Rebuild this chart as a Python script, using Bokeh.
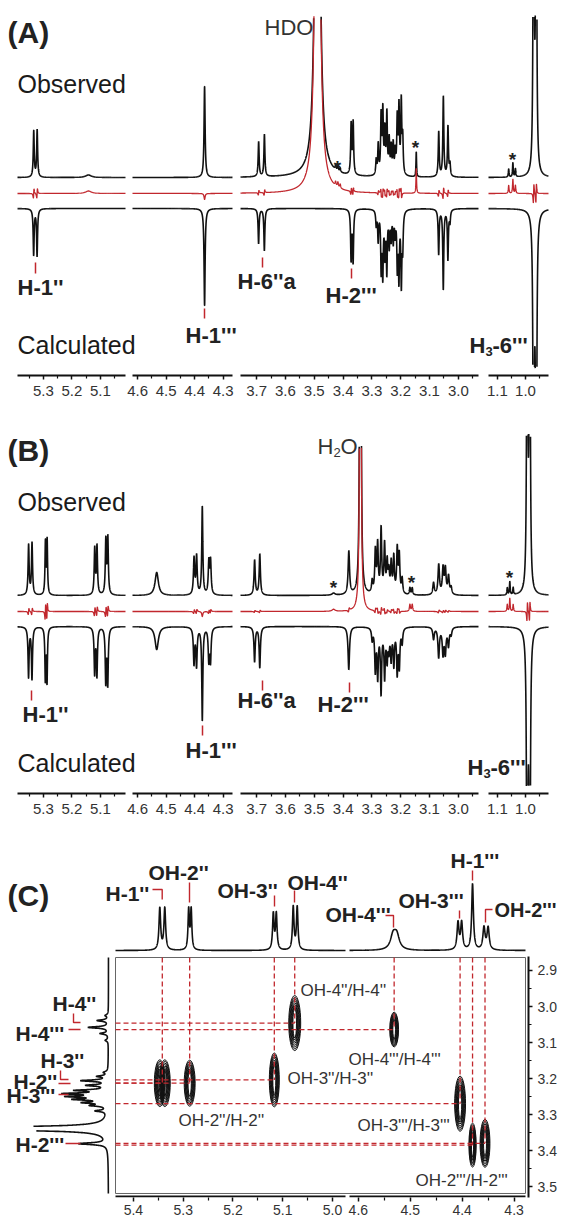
import numpy as np
from bokeh.plotting import figure
from bokeh.models import Range1d, FixedTicker, PrintfTickFormatter, LinearAxis
from bokeh.layouts import column, row
from bokeh.embed import file_html
from bokeh.resources import INLINE
from bokeh.core.properties import value

FONT = "Liberation Sans"
RED = "#c1272d"
INK = "#111111"
TXT = "#1e1e1e"

# ============================ DATA ============================
# (A) 1H peak list:
# shift (ppm), observed height, calculated height, half width (ppm),
# small offset of the calculated line (ppm) seen as wiggles in the residual
A_PPM = [5.334, 5.322, 5.142, 4.365, 3.693, 3.673, 3.489, 3.426, 3.418, 3.410,
         3.372, 3.365, 3.285, 3.278, 3.268, 3.262, 3.255, 3.248, 3.240, 3.233,
         3.226, 3.219, 3.212, 3.206, 3.198, 3.193, 3.146, 3.068, 3.052, 3.036,
         3.029, 1.060, 1.045, 1.036, 0.971, 0.962]
A_OBS = [46, 47, 2.5, 91, 35, 42, 900, 4, 5, 4,
         50, 52, 15, 30, 58, 62, 42, 60, 34, 27,
         30, 22, 55, 66, 72, 35, 25, 45, 80, 50,
         12, 8, 14, 8, 500, 500]
A_CALC = [46, 47, 0, 97, 35, 42, 0, 0, 0, 0,
          50, 52, 15, 30, 58, 62, 42, 60, 34, 27,
          30, 22, 55, 66, 72, 35, 0, 45, 80, 50,
          12, 0, 0, 0, 500, 500]
A_HW = [.002, .002, .012, .0022, .002, .002, .006, .002, .002, .002,
        .002, .002, .002, .002, .002, .002, .002, .002, .002, .002,
        .002, .002, .002, .002, .002, .002, .0012, .002, .002, .002,
        .002, .0015, .0015, .0015, .0018, .0018]
A_DCALC = [.0003, .0003, 0, 0, .0002, .0002, 0, 0, 0, 0,
           .0002, .0002, 0, .0002, -.0002, .0002, -.0002, .0002, -.0002, .0002,
           -.0002, .0002, -.0002, .0002, -.0002, 0, 0, .0002, .0002, .0002,
           0, 0, 0, 0, .00005, .00005]

# (B) 1H peak list (spectrum with OH signals)
B_PPM = [5.352, 5.340, 5.293, 5.287, 5.120, 5.112, 5.081, 5.074, 4.533, 4.402,
         4.393, 4.373, 4.350, 4.344, 3.707, 3.689, 3.433, 3.380, 3.340, 3.299,
         3.288, 3.280, 3.268, 3.256, 3.247, 3.241, 3.233, 3.224, 3.212, 3.205,
         3.195, 3.168, 3.160, 3.086, 3.068, 3.053, 3.045, 3.034, 3.025, 1.065,
         1.056, 1.044, 0.994, 0.985]
B_OBS = [50, 52, 52, 54, 46, 48, 54, 56, 23, 36,
         38, 88, 32, 33, 35, 41, 2, 43, 1500, 12,
         42, 48, 64, 48, 30, 20, 30, 36, 44, 38,
         15, 7, 7, 12, 30, 26, 25, 18, 7, 7,
         13, 7, 500, 500]
B_CALC = [50, 52, 52, 54, 46, 48, 54, 56, 23, 36,
          38, 93, 32, 33, 35, 41, 0, 43, 0, 12,
          42, 48, 64, 48, 30, 20, 30, 36, 44, 38,
          15, 0, 0, 12, 30, 26, 25, 18, 7, 0,
          0, 0, 500, 500]
B_HW = [.0022, .0022, .0018, .0018, .0022, .0022, .0022, .0022, .007, .0025,
        .0025, .0022, .0025, .0025, .0025, .0025, .006, .003, .0013, .0025,
        .0025, .0025, .0025, .0025, .0025, .0025, .0025, .0025, .0025, .0025,
        .0025, .002, .002, .003, .003, .003, .003, .003, .003, .0015,
        .0015, .0015, .0018, .0018]
B_DCALC = [.0002, .0002, .0004, .0004, .0003, .0003, .0003, .0003, 0, .0002,
           .0002, 0, .0002, .0002, .0001, .0001, 0, .0002, 0, 0,
           .0002, -.0002, .0002, -.0002, .0002, 0, .0002, -.0002, .0002, -.0002,
           0, 0, 0, 0, .0002, .0002, .0002, .0002, 0, 0,
           0, 0, .00005, .00005]

# broken ppm axis of (A)/(B): tick values
AB_MAJOR = [[5.3, 5.2, 5.1], [4.6, 4.5, 4.4, 4.3],
            [3.7, 3.6, 3.5, 3.4, 3.3, 3.2, 3.1, 3.0], [1.1, 1.0]]
AB_MINOR = [[5.35, 5.25, 5.15, 5.05], [4.55, 4.45, 4.35],
            [3.65, 3.55, 3.45, 3.35, 3.25, 3.15, 3.05, 2.95], [1.05, 0.95]]

# (C) top projection (OH region, F2)
CT_PPM = [5.347, 5.337, 5.289, 5.284, 5.119, 5.113, 5.079, 5.071, 4.533, 4.526,
          4.408, 4.401, 4.380, 4.358, 4.350]
CT_INT = [42, 42, 40, 40, 36, 36, 43, 43, 14, 14, 27, 27, 66, 22, 22]
CT_HW = [.002, .002, .0016, .0016, .0018, .0018, .0018, .0018, .006, .006,
         .0022, .0022, .002, .0025, .0025]
# (C) left projection (CH region, F1)
CL_PPM = [3.025, 3.039, 3.058, 3.075, 3.094, 3.183, 3.194, 3.206, 3.219, 3.233,
          3.242, 3.250, 3.258, 3.267, 3.275, 3.290, 3.339, 3.381]
CL_INT = [3, 11, 20, 8, 3, 4, 10, 26, 20, 30, 40, 36, 30, 22, 15, 11, 400, 28]
CL_HW = [.003, .0025, .0025, .0025, .003, .003, .0025, .0025, .0025, .0025,
         .0025, .0025, .0025, .0025, .0025, .0025, .003, .003]
# (C) cross peaks: F2 (OH) ppm, F1 (H) ppm, F2 width, F1 height (ppm)
XP_F2 = [5.347, 5.337, 5.287, 5.117, 5.076, 4.531, 4.404, 4.380, 4.356]
XP_F1 = [3.213, 3.213, 3.213, 3.204, 3.046, 3.064, 3.270, 3.385, 3.380]
XP_W = [0.022, 0.022, 0.022, 0.020, 0.024, 0.017, 0.021, 0.014, 0.019]
XP_H = [0.130, 0.130, 0.128, 0.150, 0.153, 0.097, 0.153, 0.122, 0.133]
# correlations marked with dashed guides
COR_F2 = [5.342, 5.287, 5.117, 5.076, 4.531, 4.404, 4.380, 4.356]
COR_F1 = [3.213, 3.213, 3.204, 3.046, 3.064, 3.270, 3.385, 3.380]
C_MAJOR = [[5.4, 5.3, 5.2, 5.1, 5.0], [4.6, 4.5, 4.4, 4.3]]
C_MINOR = [[5.35, 5.25, 5.15, 5.05], [4.55, 4.45, 4.35]]
F1_MAJOR = [2.9, 3.0, 3.1, 3.2, 3.3, 3.4, 3.5]
F1_MINOR = [2.95, 3.05, 3.15, 3.25, 3.35, 3.45]

# ============================ LAYOUT ============================
SEG_AB = [(5.391, 5.012, 17, 125), (4.618, 4.267, 132, 232),
          (3.756, 2.930, 240, 478), (1.132, 0.918, 488, 548)]
SEG_C = [(5.436, 4.974, 115, 345), (4.617, 4.278, 349, 525)]
F1_TOP, F1_BOT = 2.8639, 3.5194      # 2D box, page y 957..1193
F1_PX = 360.0


def to_x(ppm, seg):
    p0, p1, x0, x1 = seg
    return x0 + (p0 - np.asarray(ppm, float)) * (x1 - x0) / (p0 - p1)


def seg_scale(seg):
    p0, p1, x0, x1 = seg
    return (x1 - x0) / (p0 - p1)


def spectrum(grid, ppm, h, hw):
    g = grid[:, None]
    c = np.asarray(ppm, float)[None, :]
    w = np.asarray(hw, float)[None, :]
    a = np.asarray(h, float)[None, :]
    return (a / (1.0 + ((g - c) / w) ** 2)).sum(axis=1)


def page_to_f1(y):
    return F1_TOP + (np.asarray(y, float) - 957.0) / F1_PX


def style_axis(ax, size="15px", standoff=6):
    ax.axis_line_width = 2
    ax.axis_line_color = INK
    ax.major_tick_line_color = INK
    ax.minor_tick_line_color = INK
    ax.major_tick_line_width = 1.5
    ax.minor_tick_line_width = 1.2
    ax.major_tick_in = 0
    ax.major_tick_out = 4
    ax.minor_tick_in = 0
    ax.minor_tick_out = 3
    ax.major_label_text_font = FONT
    ax.major_label_text_font_size = size
    ax.major_label_text_color = "#333333"
    ax.major_label_standoff = standoff


def seg_axis(p, seg, major, minor, loc, size="15px", standoff=6):
    tk = [float(v) for v in to_x(major, seg)]
    mk = [float(v) for v in to_x(minor, seg)]
    ax = LinearAxis(fixed_location=loc, bounds=(float(seg[2]), float(seg[3])),
                    ticker=FixedTicker(ticks=tk, minor_ticks=mk),
                    major_label_overrides={t: f"{m:.1f}" for t, m in zip(tk, major)})
    style_axis(ax, size, standoff)
    p.add_layout(ax, "below")


def txt(p, xs, ys, texts, size, bold=False, color=TXT, align="left"):
    p.text(x=list(xs), y=list(ys), text=list(texts), text_font=value(FONT),
           text_font_size=size, text_font_style="bold" if bold else "normal",
           text_color=color, text_baseline="middle", text_align=align)


def sub_label(p, x, y, head, sub, tail, size, bold, color, sub_dx, tail_dx, sub_dy):
    """text with a subscript digit, e.g. H3-6''' or H2O (three real text pieces)"""
    txt(p, [x], [y], [head], f"{size}px", bold=bold, color=color)
    if sub:
        txt(p, [x + sub_dx], [y + sub_dy], [sub], f"{int(size * 0.6)}px", bold=bold, color=color)
    if tail:
        txt(p, [x + tail_dx], [y], [tail], f"{size}px", bold=bold, color=color)


def bare(width, height, xr, yr, xloc=None, yloc=None, **borders):
    b = dict(min_border_left=0, min_border_right=0, min_border_top=0, min_border_bottom=0)
    b.update(borders)
    p = figure(width=width, height=height, x_range=xr, y_range=yr,
               output_backend="svg", toolbar_location=None,
               x_axis_location=xloc, y_axis_location=yloc,
               outline_line_color=None, background_fill_color="white",
               border_fill_color="white", **b)
    p.xgrid.visible = False
    p.ygrid.visible = False
    return p


# ---------------- panels (A) and (B) ----------------
BASE_OBS, BASE_RES, BASE_CALC = 177, 193, 208
CLIP_TOP, CLIP_BOT, AXIS_Y = 15, 368, 375


def ab_panel(ppm, obs, calc, hw, dcalc, tag, solvent, bold_lab, h36, ticks, stars):
    p = bare(561, 418, Range1d(0, 561), Range1d(418, 0))
    cppm = np.asarray(ppm, float) + np.asarray(dcalc, float)
    for seg in SEG_AB:
        grid = np.linspace(seg[0], seg[1], 4000)
        x = to_x(grid, seg)
        io = spectrum(grid, ppm, obs, hw)
        ic = spectrum(grid, cppm, calc, hw)
        yo = BASE_OBS - io
        yo[yo < CLIP_TOP] = np.nan
        yr = BASE_RES - (io - ic)
        yr[yr < CLIP_TOP] = np.nan
        yc = BASE_CALC + ic
        yc[yc > CLIP_BOT] = np.nan
        p.line(x, yc, line_color=INK, line_width=1.6)
        p.line(x, yo, line_color=INK, line_width=1.6)
        p.line(x, yr, line_color=RED, line_width=1.3)
    for seg, maj, mnr in zip(SEG_AB, AB_MAJOR, AB_MINOR):
        seg_axis(p, seg, maj, mnr, AXIS_Y)
    txt(p, [7], [32], [tag], "30px", bold=True, color="#222222")
    txt(p, [17, 17], [83, 344], ["Observed", "Calculated"], "25px", color="#1a1a1a")
    sx, sy, shead, ssub, stail = solvent
    sub_label(p, sx, sy, shead, ssub, stail, 22, False, "#333333", 16, 23, 6)
    txt(p, bold_lab[1], bold_lab[2], bold_lab[0], "22px", bold=True, color="#222222")
    sub_label(p, h36[0], h36[1], "H", "3", "-6'''", 22, True, "#222222", 16, 23, 6)
    p.segment(x0=ticks[0], y0=ticks[1], x1=ticks[0], y1=ticks[2], line_color=RED, line_width=1.5)
    txt(p, stars[0], [v + 4 for v in stars[1]], ["*"] * len(stars[0]), "19px", bold=True,
        color="#222222", align="center")
    return p


LAB_AB = ["H-1''", "H-1'''", "H-6''a", "H-2'''"]
pa = ab_panel(A_PPM, A_OBS, A_CALC, A_HW, A_DCALC, "(A)", (264, 27, "HDO", "", ""),
              (LAB_AB, [17, 185, 237, 325], [287, 335, 281, 295]), (469, 345),
              ([35, 204, 262, 351], [262, 308, 257, 268], [273, 318, 267, 278]),
              ([337, 415, 512], [163, 143, 155]))
pb = ab_panel(B_PPM, B_OBS, B_CALC, B_HW, B_DCALC, "(B)", (317, 28, "H", "2", "O"),
              (LAB_AB, [22, 185, 237, 317], [296, 332, 282, 286]), (467, 349),
              ([31, 202, 262, 349], [272, 307, 262, 264], [282, 317, 272, 274]),
              ([333, 411, 509], [165, 160, 155]))

# ---------------- panel (C): top projection ----------------
CT_BASE = 950
pct = bare(561, 120, Range1d(0, 561), Range1d(956, 836))
for seg in SEG_C:
    grid = np.linspace(seg[0], seg[1], 3000)
    pct.line(to_x(grid, seg), CT_BASE - spectrum(grid, CT_PPM, CT_INT, CT_HW),
             line_color=INK, line_width=1.6)
txt(pct, [7], [895], ["(C)"], "30px", bold=True, color="#222222")
txt(pct, [105, 148, 217, 287, 325, 398, 450], [893, 872, 890, 882, 914, 900, 860],
    ["H-1''", "OH-2''", "OH-3''", "OH-4''", "OH-4'''", "OH-3'''", "H-1'''"], "21px", bold=True,
    color="#222222")
txt(pct, [494], [909], ["OH-2'''"], "20px", bold=True, color="#222222")
pct.multi_line(xs=[[152, 161.7, 161.7], [189, 189], [274, 274], [294, 294], [385, 393, 393],
                   [459, 459], [472, 472], [492, 485, 485]],
               ys=[[889, 889, 899], [882, 902], [895, 906], [890, 902], [915, 915, 927],
                   [910, 918], [870, 880], [909, 909, 922]],
               line_color=RED, line_width=1.4)

# ---------------- panel (C): left projection + 2D map share F1 ----------------
# frame spans page y 956..1197 (box 957..1193, axis line at 1197)
yr_c = Range1d(F1_BOT + 4.0 / F1_PX, F1_TOP - 1.0 / F1_PX)
pcl = bare(114, 266, Range1d(0, 114), yr_c, min_border_bottom=25)
gridf1 = np.linspace(F1_TOP, F1_BOT, 3000)
xl = 108 - spectrum(gridf1, CL_PPM, CL_INT, CL_HW)
xl[xl < 32] = np.nan
pcl.line(xl, gridf1, line_color=INK, line_width=1.6)
txt(pcl, [52, 15, 40, 13, 6, 15], page_to_f1([1003, 1033, 1060, 1081, 1095, 1144]),
    ["H-4''", "H-4'''", "H-3''", "H-2''", "H-3'''", "H-2'''"], "21px", bold=True, color="#222222")
pcl.multi_line(xs=[[73, 73, 80], [68, 80], [60, 60, 68], [58, 70], [58, 68], [65, 80]],
               ys=[list(page_to_f1([1013, 1022, 1022])), list(page_to_f1([1029, 1029])),
                   list(page_to_f1([1070, 1079, 1079])), list(page_to_f1([1083, 1083])),
                   list(page_to_f1([1094, 1094])), list(page_to_f1([1143, 1143]))],
               line_color=RED, line_width=1.4)

pcm = bare(447, 266, Range1d(114, 528), yr_c, xloc="below", yloc="right",
           min_border_right=33, min_border_bottom=25)
# right F1 axis
yax = pcm.yaxis[0]
yax.ticker = FixedTicker(ticks=F1_MAJOR, minor_ticks=F1_MINOR)
yax.formatter = PrintfTickFormatter(format="%.1f")
style_axis(yax, "14px", 5)
# bottom F2 axis: ticks of both pieces, broken axis line drawn per piece
xtk, xmn, xlab = [], [], {}
for seg, maj, mnr in zip(SEG_C, C_MAJOR, C_MINOR):
    for v in maj:
        t = float(to_x(v, seg))
        xtk.append(t)
        xlab[t] = f"{v:.1f}"
    xmn += [float(v) for v in to_x(mnr, seg)]
xax = pcm.xaxis[0]
xax.ticker = FixedTicker(ticks=xtk, minor_ticks=xmn)
xax.major_label_overrides = xlab
style_axis(xax, "14px", 3)
xax.axis_line_color = None
pcm.segment(x0=[s[2] for s in SEG_C], x1=[s[3] for s in SEG_C],
            y0=[F1_BOT + 3.0 / F1_PX] * 2, y1=[F1_BOT + 3.0 / F1_PX] * 2,
            line_color=INK, line_width=2)
# frame box of the 2D map
pcm.quad(left=[115], right=[525], top=[F1_TOP], bottom=[F1_BOT], fill_color=None,
         line_color="#666666", line_width=1)


def seg_of(ppm):
    return SEG_C[0] if ppm > 4.8 else SEG_C[1]


# contour rings of the cross peaks
LEVELS = [1.0, 0.9, 0.8, 0.7, 0.6, 0.5, 0.4, 0.3]
ex, ey, ew, eh = [], [], [], []
for f2, f1, w, h in zip(XP_F2, XP_F1, XP_W, XP_H):
    s = seg_of(f2)
    for lv in LEVELS:
        ex.append(float(to_x(f2, s)))
        ey.append(f1)
        ew.append(w * seg_scale(s) * lv)
        eh.append(h * (0.35 + 0.65 * lv))
pcm.ellipse(x=ex, y=ey, width=ew, height=eh, fill_color=None, line_color=INK, line_width=1)

# dashed guides
vx = [float(to_x(f2, seg_of(f2))) for f2 in COR_F2]
pcm.segment(x0=vx, y0=[F1_TOP] * len(vx), x1=vx, y1=COR_F1,
            line_color=RED, line_width=1.3, line_dash="5 3")
pcm.segment(x0=[115] * len(vx), y0=COR_F1, x1=vx, y1=COR_F1,
            line_color=RED, line_width=1.3, line_dash="5 3")

txt(pcm, [178, 300, 348, 287, 357, 415], page_to_f1([1120, 990, 1059, 1078, 1125, 1180]),
    ["OH-2''/H-2''", "OH-4''/H-4''", "OH-4'''/H-4'''", "OH-3''/H-3''", "OH-3'''/H-3'''",
     "OH-2'''/H-2'''"], "17px", color="#333333")

layout = column(pa, pb, pct, row(pcl, pcm))
open("out.html", "w").write(file_html(layout, INLINE))
